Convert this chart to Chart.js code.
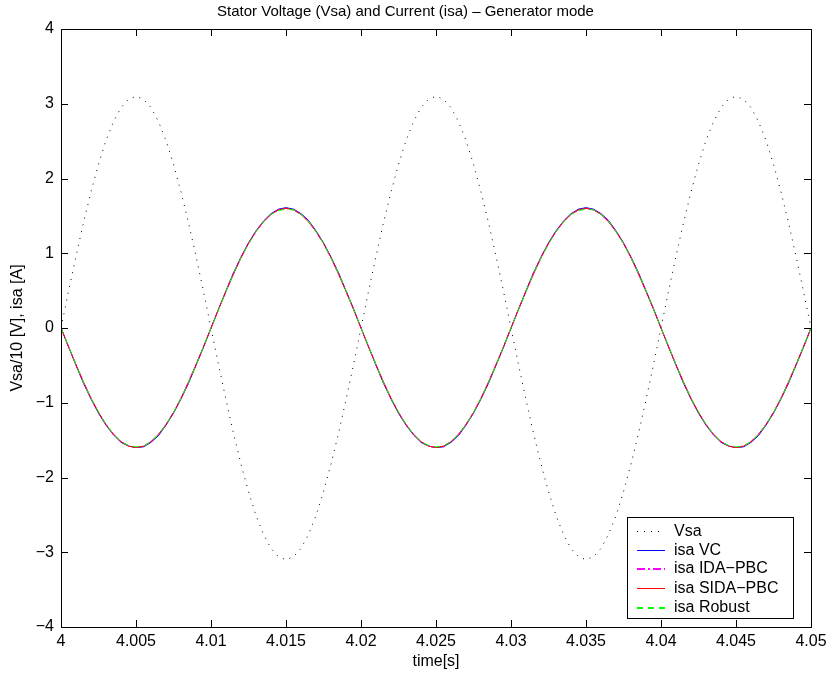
<!DOCTYPE html>
<html>
<head>
<meta charset="utf-8">
<script src="https://cdn.jsdelivr.net/npm/chart.js@4"></script>
<style>html,body{margin:0;padding:0;background:#fff;}canvas{display:block;}</style>
</head>
<body>
<canvas id="c" width="833" height="675"></canvas>
<script>
// ---- data ----
const timeS = [
 4.0000,4.0005,4.0010,4.0015,4.0020,4.0025,4.0030,4.0035,4.0040,4.0045,
 4.0050,4.0055,4.0060,4.0065,4.0070,4.0075,4.0080,4.0085,4.0090,4.0095,
 4.0100,4.0105,4.0110,4.0115,4.0120,4.0125,4.0130,4.0135,4.0140,4.0145,
 4.0150,4.0155,4.0160,4.0165,4.0170,4.0175,4.0180,4.0185,4.0190,4.0195,
 4.0200,4.0205,4.0210,4.0215,4.0220,4.0225,4.0230,4.0235,4.0240,4.0245,
 4.0250,4.0255,4.0260,4.0265,4.0270,4.0275,4.0280,4.0285,4.0290,4.0295,
 4.0300,4.0305,4.0310,4.0315,4.0320,4.0325,4.0330,4.0335,4.0340,4.0345,
 4.0350,4.0355,4.0360,4.0365,4.0370,4.0375,4.0380,4.0385,4.0390,4.0395,
 4.0400,4.0405,4.0410,4.0415,4.0420,4.0425,4.0430,4.0435,4.0440,4.0445,
 4.0450,4.0455,4.0460,4.0465,4.0470,4.0475,4.0480,4.0485,4.0490,4.0495,
 4.0500];
const vsa = [
 0,0.49,0.96,1.41,1.82,2.19,2.51,2.76,2.95,3.06,
 3.10,3.06,2.95,2.76,2.51,2.19,1.82,1.41,0.96,0.49,
 0,-0.49,-0.96,-1.41,-1.82,-2.19,-2.51,-2.76,-2.95,-3.06,
 -3.10,-3.06,-2.95,-2.76,-2.51,-2.19,-1.82,-1.41,-0.96,-0.49,
 0,0.49,0.96,1.41,1.82,2.19,2.51,2.76,2.95,3.06,
 3.10,3.06,2.95,2.76,2.51,2.19,1.82,1.41,0.96,0.49,
 0,-0.49,-0.96,-1.41,-1.82,-2.19,-2.51,-2.76,-2.95,-3.06,
 -3.10,-3.06,-2.95,-2.76,-2.51,-2.19,-1.82,-1.41,-0.96,-0.49,
 0,0.49,0.96,1.41,1.82,2.19,2.51,2.76,2.95,3.06,
 3.10,3.06,2.95,2.76,2.51,2.19,1.82,1.41,0.96,0.49,
 0];
const isaVC = [
 0,-0.25,-0.50,-0.74,-0.95,-1.14,-1.30,-1.43,-1.53,-1.58,
 -1.60,-1.59,-1.53,-1.44,-1.30,-1.14,-0.95,-0.74,-0.50,-0.26,
 0,0.25,0.50,0.74,0.95,1.14,1.30,1.43,1.53,1.59,
 1.61,1.59,1.53,1.44,1.30,1.14,0.95,0.74,0.50,0.26,
 0,-0.25,-0.50,-0.74,-0.95,-1.14,-1.30,-1.43,-1.53,-1.58,
 -1.60,-1.59,-1.53,-1.44,-1.30,-1.14,-0.95,-0.74,-0.50,-0.26,
 0,0.25,0.50,0.74,0.95,1.14,1.30,1.43,1.53,1.59,
 1.61,1.59,1.53,1.44,1.30,1.14,0.95,0.74,0.50,0.26,
 0,-0.25,-0.50,-0.74,-0.95,-1.14,-1.30,-1.43,-1.53,-1.58,
 -1.60,-1.59,-1.53,-1.44,-1.30,-1.14,-0.95,-0.74,-0.50,-0.26,
 0];
const isaIDA = [
 0,-0.25,-0.49,-0.73,-0.94,-1.13,-1.29,-1.43,-1.52,-1.58,
 -1.60,-1.58,-1.52,-1.43,-1.29,-1.13,-0.94,-0.73,-0.49,-0.25,
 0,0.25,0.49,0.73,0.94,1.13,1.29,1.43,1.52,1.58,
 1.60,1.58,1.52,1.43,1.29,1.13,0.94,0.73,0.49,0.25,
 0,-0.25,-0.49,-0.73,-0.94,-1.13,-1.29,-1.43,-1.52,-1.58,
 -1.60,-1.58,-1.52,-1.43,-1.29,-1.13,-0.94,-0.73,-0.49,-0.25,
 0,0.25,0.49,0.73,0.94,1.13,1.29,1.43,1.52,1.58,
 1.60,1.58,1.52,1.43,1.29,1.13,0.94,0.73,0.49,0.25,
 0,-0.25,-0.49,-0.73,-0.94,-1.13,-1.29,-1.43,-1.52,-1.58,
 -1.60,-1.58,-1.52,-1.43,-1.29,-1.13,-0.94,-0.73,-0.49,-0.25,
 0];
const isaSIDA = [
 0,-0.25,-0.49,-0.72,-0.94,-1.13,-1.29,-1.42,-1.52,-1.58,
 -1.60,-1.58,-1.52,-1.42,-1.29,-1.13,-0.94,-0.72,-0.49,-0.25,
 0,0.25,0.49,0.72,0.94,1.13,1.29,1.42,1.52,1.58,
 1.60,1.58,1.52,1.42,1.29,1.13,0.94,0.72,0.49,0.25,
 0,-0.25,-0.49,-0.72,-0.94,-1.13,-1.29,-1.42,-1.52,-1.58,
 -1.60,-1.58,-1.52,-1.42,-1.29,-1.13,-0.94,-0.72,-0.49,-0.25,
 0,0.25,0.49,0.72,0.94,1.13,1.29,1.42,1.52,1.58,
 1.60,1.58,1.52,1.42,1.29,1.13,0.94,0.72,0.49,0.25,
 0,-0.25,-0.49,-0.72,-0.94,-1.13,-1.29,-1.42,-1.52,-1.58,
 -1.60,-1.58,-1.52,-1.42,-1.29,-1.13,-0.94,-0.72,-0.49,-0.25,
 0];
const isaRobust = [
 0,-0.24,-0.49,-0.73,-0.94,-1.12,-1.29,-1.42,-1.52,-1.57,
 -1.59,-1.58,-1.52,-1.43,-1.29,-1.13,-0.94,-0.73,-0.50,-0.25,
 0,0.24,0.49,0.73,0.94,1.12,1.29,1.42,1.52,1.57,
 1.59,1.58,1.52,1.43,1.29,1.13,0.94,0.73,0.50,0.25,
 0,-0.24,-0.49,-0.73,-0.94,-1.12,-1.29,-1.42,-1.52,-1.57,
 -1.59,-1.58,-1.52,-1.43,-1.29,-1.13,-0.94,-0.73,-0.50,-0.25,
 0,0.24,0.49,0.73,0.94,1.12,1.29,1.42,1.52,1.57,
 1.59,1.58,1.52,1.43,1.29,1.13,0.94,0.73,0.50,0.25,
 0,-0.24,-0.49,-0.73,-0.94,-1.12,-1.29,-1.42,-1.52,-1.57,
 -1.59,-1.58,-1.52,-1.43,-1.29,-1.13,-0.94,-0.73,-0.50,-0.25,
 0];
const seriesNames = ['Vsa','isa VC','isa IDA\u2212PBC','isa SIDA\u2212PBC','isa Robust'];
const xTickValues = [4,4.005,4.01,4.015,4.02,4.025,4.03,4.035,4.04,4.045,4.05];
const xTickLabels = ['4','4.005','4.01','4.015','4.02','4.025','4.03','4.035','4.04','4.045','4.05'];
const yTickValues = [-4,-3,-2,-1,0,1,2,3,4];
const yTickLabels = ['\u22124','\u22123','\u22122','\u22121','0','1','2','3','4'];
const titleText = 'Stator Voltage (Vsa) and Current (isa) \u2013 Generator mode';
const xTitle = 'time[s]';
const yTitle = 'Vsa/10 [V], isa [A]';

// ---- build ----
const pts = arr => arr.map((v, i) => ({x: timeS[i], y: v}));
const FONT = "'Liberation Sans', Arial, Helvetica, sans-serif";

const styles = [
  {color: '#000000', dash: [1, 6], order: 5, legendWidth: 1},
  {color: '#0000ff', dash: [], order: 4, legendWidth: 1},
  {color: '#ff00ff', dash: [8, 3, 2, 3], order: 3, legendWidth: 2},
  {color: '#ff0000', dash: [], order: 2, legendWidth: 1},
  {color: '#00ff00', dash: [6, 5], order: 1, legendWidth: 2}
];
const seriesData = [vsa, isaVC, isaIDA, isaSIDA, isaRobust];

const datasets = seriesData.map((arr, i) => ({
  label: seriesNames[i],
  data: pts(arr),
  borderColor: styles[i].color,
  borderDash: styles[i].dash,
  borderWidth: 1,
  pointRadius: 0,
  tension: 0,
  fill: false,
  order: styles[i].order
}));

const boxTicks = {
  id: 'boxTicks',
  afterDatasetsDraw(chart) {
    const {ctx, chartArea: a, scales: {x, y}} = chart;
    ctx.save();
    ctx.strokeStyle = '#000';
    ctx.lineWidth = 1;
    ctx.setLineDash([]);
    const L = 7;
    ctx.beginPath();
    xTickValues.forEach(v => {
      const px = Math.round(x.getPixelForValue(v)) + 0.5;
      ctx.moveTo(px, a.bottom); ctx.lineTo(px, a.bottom - L);
      ctx.moveTo(px, a.top); ctx.lineTo(px, a.top + L);
    });
    yTickValues.forEach(v => {
      const py = Math.round(y.getPixelForValue(v)) + 0.5;
      ctx.moveTo(a.left, py); ctx.lineTo(a.left + L, py);
      ctx.moveTo(a.right, py); ctx.lineTo(a.right - L, py);
    });
    ctx.stroke();
    ctx.strokeRect(Math.round(a.left) + 0.5, Math.round(a.top) + 0.5,
                   Math.round(a.right - a.left), Math.round(a.bottom - a.top));
    ctx.restore();
  },
  afterDraw(chart) {
    const {ctx} = chart;
    const bx = 627.5, by = 517.5, bw = 166, bh = 101;
    ctx.save();
    ctx.fillStyle = '#fff';
    ctx.fillRect(bx, by, bw, bh);
    ctx.strokeStyle = '#000';
    ctx.lineWidth = 1;
    ctx.setLineDash([]);
    ctx.strokeRect(bx, by, bw, bh);
    ctx.font = '16px ' + FONT;
    ctx.textBaseline = 'middle';
    ctx.textAlign = 'left';
    chart.data.datasets.forEach((ds, i) => {
      const w = styles[i].legendWidth;
      const cy = Math.round(by + 13 + i * 19.3) + (w === 1 ? 0.5 : 0);
      ctx.strokeStyle = ds.borderColor;
      ctx.lineWidth = w;
      ctx.setLineDash(ds.borderDash);
      ctx.beginPath();
      ctx.moveTo(637, cy); ctx.lineTo(665, cy);
      ctx.stroke();
      ctx.fillStyle = '#000';
      ctx.fillText(ds.label, 674, cy);
    });
    ctx.restore();
  }
};

new Chart(document.getElementById('c'), {
  type: 'line',
  data: {datasets},
  plugins: [boxTicks],
  options: {
    responsive: false,
    animation: false,
    devicePixelRatio: 1,
    layout: {padding: {left: 0, right: 22, top: 0, bottom: 0}},
    plugins: {
      legend: {display: false},
      tooltip: {enabled: false},
      title: {
        display: true,
        text: titleText,
        color: '#000',
        font: {family: FONT, size: 15, weight: 'normal', lineHeight: 1.2},
        padding: {top: 3, bottom: 8}
      }
    },
    scales: {
      x: {
        type: 'linear',
        min: 4, max: 4.05,
        afterBuildTicks: s => { s.ticks = xTickValues.map(v => ({value: v})); },
        afterFit: s => { s.height = 48; },
        grid: {display: false, drawTicks: false},
        border: {display: false},
        ticks: {
          color: '#000', padding: 5, maxRotation: 0, autoSkip: false,
          font: {family: FONT, size: 16},
          callback: (v, i) => xTickLabels[i]
        },
        title: {
          display: true, text: xTitle, color: '#000',
          font: {family: FONT, size: 16, lineHeight: 1.2},
          padding: {top: 0, bottom: 4}
        }
      },
      y: {
        type: 'linear',
        min: -4, max: 4,
        afterBuildTicks: s => { s.ticks = yTickValues.map(v => ({value: v})); },
        afterFit: s => { s.width = 61; },
        grid: {display: false, drawTicks: false},
        border: {display: false},
        ticks: {
          color: '#000', padding: 7, autoSkip: false,
          font: {family: FONT, size: 16},
          callback: (v, i) => yTickLabels[i]
        },
        title: {
          display: true, text: yTitle, color: '#000',
          font: {family: FONT, size: 16, lineHeight: 1.2},
          padding: {top: 8, bottom: 0}
        }
      }
    }
  }
});
</script>
</body>
</html>
